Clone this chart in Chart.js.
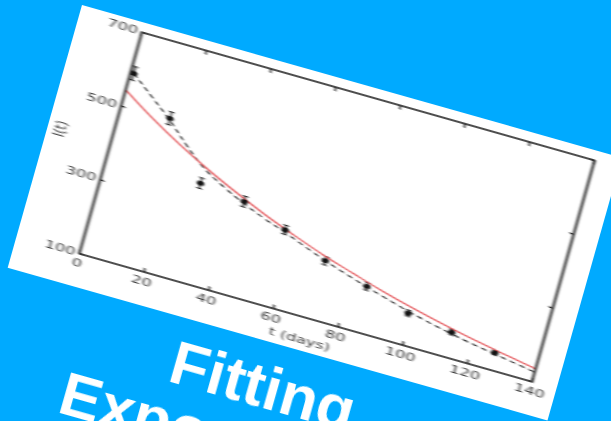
<!DOCTYPE html>
<html>
<head>
<meta charset="utf-8">
<script src="https://cdn.jsdelivr.net/npm/chart.js@4/dist/chart.umd.min.js"></script>
<style>
  html, body { margin: 0; padding: 0; width: 611px; height: 421px; overflow: hidden; background: #00AAFF; }
  #card {
    position: absolute; left: 82px; top: 5px; width: 374px; height: 273px;
    background: #fff; transform-origin: 0 0; transform: rotate(15.8deg) scaleX(1.5);
  }
  #card canvas { display: block; filter: blur(0.6px); }
  #heading {
    position: absolute; left: 86px; top: 305px; width: 385px;
    color: #fff; font: bold 62px "Liberation Sans", Arial, sans-serif;
    line-height: 60px; text-align: center; white-space: nowrap;
    transform-origin: 0 0; transform: rotate(15.8deg);
  }
</style>
</head>
<body>
<div id="card"><canvas id="chart" width="374" height="273"></canvas></div>
<div id="heading">Fitting<br>Exponentials</div>
<script>
// Measured intensity I(t) with uncertainties
const days = [1, 15, 29, 43, 57, 71, 85, 99, 113, 127];
const intensity = [591, 504, 363, 348, 306, 257, 222, 184, 167, 146];
const intensityErr = [18, 17, 14, 14, 12, 11, 10, 8, 7, 6];

// Single-exponential fit (solid red)
const singleFitDays = [0, 10, 20, 30, 40, 50, 60, 70, 80, 90, 100, 110, 120, 130, 140];
const singleFit = [544, 492, 445, 403, 365, 330, 299, 270, 245, 221, 200, 181, 164, 149, 135];

// Double-exponential fit (dashed black)
const doubleFitDays = [1, 8, 15, 22, 29, 36, 43, 50, 57, 71, 85, 99, 113, 127, 140];
const doubleFit = [591, 546, 500, 448, 402, 370, 343, 320, 300, 257, 221, 189, 163, 143, 126];

// Axis ticks
const xTicks = [0, 20, 40, 60, 80, 100, 120, 140];
const yTicks = [100, 300, 500, 700];

const labelFont = { family: 'DejaVu Sans', size: 11 };
const labelColor = '#3a3a3a';

const toXY = (xs, ys) => xs.map((x, i) => ({ x: x, y: ys[i] }));

// Frame box, inward tick marks, error bars and axis titles
const framePlugin = {
  id: 'frame',
  beforeDatasetsDraw(chart) {
    const { ctx, scales: { x, y } } = chart;
    ctx.save();
    ctx.strokeStyle = '#1a1a1a';
    ctx.lineWidth = 1;
    days.forEach((d, i) => {
      const px = x.getPixelForValue(d);
      const top = y.getPixelForValue(intensity[i] + intensityErr[i]);
      const bot = y.getPixelForValue(intensity[i] - intensityErr[i]);
      ctx.beginPath();
      ctx.moveTo(px, top); ctx.lineTo(px, bot);
      ctx.moveTo(px - 2, top); ctx.lineTo(px + 2, top);
      ctx.moveTo(px - 2, bot); ctx.lineTo(px + 2, bot);
      ctx.stroke();
    });
    ctx.restore();
  },
  afterDraw(chart) {
    const { ctx, chartArea: a, scales: { x, y } } = chart;
    ctx.save();
    ctx.strokeStyle = '#222';
    ctx.lineWidth = 1.6;
    ctx.strokeRect(a.left, a.top, a.right - a.left, a.bottom - a.top);
    ctx.lineWidth = 1.2;
    ctx.beginPath();
    xTicks.forEach(v => {
      const px = x.getPixelForValue(v);
      ctx.moveTo(px, a.bottom); ctx.lineTo(px, a.bottom - 4);
      ctx.moveTo(px, a.top); ctx.lineTo(px, a.top + 4);
    });
    yTicks.forEach(v => {
      const py = y.getPixelForValue(v);
      ctx.moveTo(a.left, py); ctx.lineTo(a.left + 3, py);
      ctx.moveTo(a.right, py); ctx.lineTo(a.right - 3, py);
    });
    ctx.stroke();

    ctx.fillStyle = labelColor;
    ctx.font = '11px "DejaVu Sans"';
    ctx.textAlign = 'center';
    ctx.textBaseline = 'middle';
    ctx.fillText('t (days)', (a.left + a.right) / 2, a.bottom + 23);
    ctx.translate(9, (a.top + a.bottom) / 2);
    ctx.rotate(-Math.PI / 2);
    ctx.fillText('I(t)', 0, 0);
    ctx.restore();
  }
};

new Chart(document.getElementById('chart'), {
  type: 'scatter',
  data: {
    datasets: [
      {
        label: 'data',
        data: toXY(days, intensity),
        backgroundColor: '#111',
        borderWidth: 0,
        pointRadius: 2.5,
        order: 0
      },
      {
        label: 'single exponential',
        data: toXY(singleFitDays, singleFit),
        showLine: true,
        borderColor: '#e55a5e',
        borderWidth: 1.3,
        pointRadius: 0,
        tension: 0.4,
        order: 1
      },
      {
        label: 'double exponential',
        data: toXY(doubleFitDays, doubleFit),
        showLine: true,
        borderColor: '#222',
        borderWidth: 1.1,
        borderDash: [4, 3],
        pointRadius: 0,
        tension: 0.4,
        order: 2
      }
    ]
  },
  options: {
    responsive: false,
    animation: false,
    layout: { padding: { top: 10, right: 17, left: 0, bottom: 0 } },
    plugins: { legend: { display: false }, tooltip: { enabled: false } },
    scales: {
      x: {
        type: 'linear', min: 0, max: 140,
        border: { display: false },
        grid: { display: false, drawTicks: false },
        afterBuildTicks(s) { s.ticks = xTicks.map(v => ({ value: v })); },
        ticks: { padding: 4, color: labelColor, font: labelFont, maxRotation: 0 },
        afterFit(s) { s.height = 33; }
      },
      y: {
        type: 'linear', min: 100, max: 700,
        border: { display: false },
        grid: { display: false, drawTicks: false },
        afterBuildTicks(s) { s.ticks = yTicks.map(v => ({ value: v })); },
        ticks: { padding: 3, color: labelColor, font: labelFont },
        afterFit(s) { s.width = 43.4; }
      }
    }
  },
  plugins: [framePlugin]
});
</script>
</body>
</html>
